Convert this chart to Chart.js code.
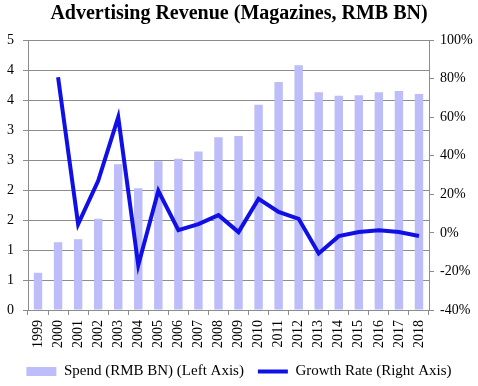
<!DOCTYPE html>
<html>
<head>
<meta charset="utf-8">
<script src="https://cdn.jsdelivr.net/npm/chart.js@4"></script>
<style>
  html, body { margin: 0; padding: 0; background: #fff; }
  #wrap { width: 478px; height: 386px; }
</style>
</head>
<body>
<div id="wrap"><canvas id="adChart" width="478" height="386"></canvas></div>
<script>
// Advertising revenue, magazines - spend bars (left) + growth line (right)
const years = ['1999', '2000', '2001', '2002', '2003', '2004', '2005', '2006', '2007', '2008',
               '2009', '2010', '2011', '2012', '2013', '2014', '2015', '2016', '2017', '2018'];
const spend = [0.62, 1.13, 1.18, 1.52, 2.43, 2.03, 2.48, 2.52, 2.64, 2.88,
               2.90, 3.42, 3.80, 4.08, 3.63, 3.57, 3.58, 3.63, 3.65, 3.60];
const growth = [null, 80.7, 4.5, 27, 60, -16.8, 21.8, 1.4, 4.5, 9.2,
                0.4, 17.7, 10.9, 7.3, -10.7, -1.7, 0.4, 1.4, 0.4, -1.6];

const barColor = '#bdbdfa';
const lineColor = '#1010e6';
const gridColor = '#8c8c8c';
const serif = "'Liberation Serif', 'DejaVu Serif', serif";

const ctx = document.getElementById('adChart');
const chart = new Chart(ctx, {
    data: {
        labels: years,
        datasets: [
            {
                type: 'bar',
                label: 'Spend (RMB BN) (Left Axis)',
                data: spend,
                backgroundColor: barColor,
                borderWidth: 0,
                barPercentage: 0.42,
                categoryPercentage: 1,
                yAxisID: 'y',
                order: 2
            },
            {
                type: 'line',
                label: 'Growth Rate (Right Axis)',
                data: growth,
                borderColor: lineColor,
                borderWidth: 4,
                pointRadius: 0,
                tension: 0,
                fill: false,
                yAxisID: 'y1',
                order: 1
            }
        ]
    },
    options: {
        responsive: false,
        animation: false,
        devicePixelRatio: 1,
        layout: { padding: 0 },
        scales: {
            x: {
                offset: true,
                grid: { display: true, drawOnChartArea: false, offset: true, tickLength: 5, color: gridColor },
                border: { color: gridColor },
                ticks: {
                    minRotation: 90, maxRotation: 90, padding: 5,
                    color: '#000', font: { family: serif, size: 14 }
                },
                afterFit: s => { s.height = 40; }
            },
            y: {
                position: 'left',
                min: 0, max: 4.5,
                grid: { color: gridColor, tickLength: 5 },
                border: { color: gridColor },
                ticks: {
                    stepSize: 0.5, padding: 9, color: '#000',
                    font: { family: serif, size: 14 },
                    callback: v => Math.round(v)
                },
                afterFit: s => { s.width = 28; }
            },
            y1: {
                position: 'right',
                min: -40, max: 100,
                grid: { drawOnChartArea: false, color: gridColor, tickLength: 5 },
                border: { color: gridColor },
                ticks: {
                    stepSize: 20, padding: 6, color: '#000',
                    font: { family: serif, size: 14 },
                    callback: v => v + '%'
                },
                afterFit: s => { s.width = 49; }
            }
        },
        plugins: {
            title: {
                display: true,
                text: 'Advertising Revenue (Magazines, RMB BN)',
                color: '#000',
                font: { family: serif, size: 20, weight: 'bold' },
                padding: { top: 2, bottom: 14 }
            },
            legend: {
                position: 'bottom',
                maxHeight: 36,
                labels: {
                    usePointStyle: true,
                    pointStyleWidth: 30,
                    boxHeight: 9,
                    padding: 14,
                    color: '#000',
                    font: { family: serif, size: 15 },
                    generateLabels: c => c.data.datasets.map((ds, i) => ({
                        text: ds.label,
                        datasetIndex: i,
                        fillStyle: i === 0 ? barColor : lineColor,
                        strokeStyle: i === 0 ? barColor : lineColor,
                        lineWidth: i === 0 ? 0 : 4,
                        pointStyle: i === 0 ? 'rect' : 'line',
                        hidden: !c.isDatasetVisible(i),
                        fontColor: '#000'
                    }))
                }
            },
            tooltip: { enabled: false }
        }
    }
});
</script>
</body>
</html>
